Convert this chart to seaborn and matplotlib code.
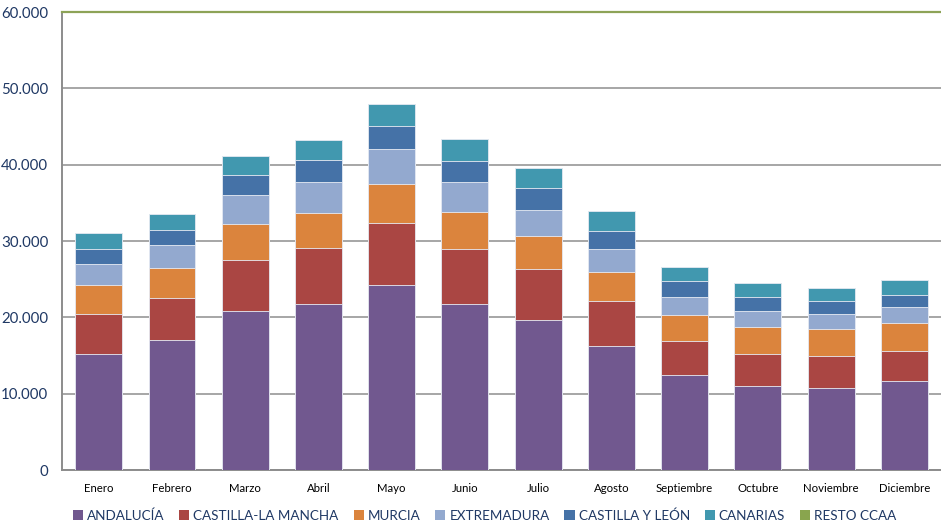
import matplotlib
matplotlib.use('Agg')
import matplotlib.pyplot as plt
from matplotlib.patches import Patch
from matplotlib.ticker import FuncFormatter
import numpy as np
import pandas as pd
import seaborn as sns

# monthly values per region
meses = ['Enero', 'Febrero', 'Marzo', 'Abril', 'Mayo', 'Junio', 'Julio',
         'Agosto', 'Septiembre', 'Octubre', 'Noviembre', 'Diciembre']
andalucia = [15200, 17000, 20800, 21800, 24300, 21800, 19700, 16200, 12400, 11000, 10800, 11600]
castilla_mancha = [5200, 5600, 6700, 7300, 8000, 7200, 6700, 5900, 4500, 4200, 4200, 4000]
murcia = [3800, 3900, 4700, 4600, 5200, 4800, 4300, 3900, 3400, 3600, 3500, 3700]
extremadura = [2800, 3000, 3800, 4100, 4600, 3900, 3400, 2900, 2400, 2000, 1900, 2000]
castilla_leon = [1900, 1900, 2600, 2800, 3000, 2800, 2800, 2400, 2000, 1900, 1800, 1600]
canarias = [2100, 2200, 2600, 2600, 2900, 2900, 2700, 2600, 1900, 1800, 1700, 2000]
resto_ccaa = [0, 0, 0, 0, 0, 0, 0, 0, 0, 0, 0, 0]

series = ['ANDALUCÍA', 'CASTILLA-LA MANCHA', 'MURCIA', 'EXTREMADURA',
          'CASTILLA Y LEÓN', 'CANARIAS', 'RESTO CCAA']
colores = ['#71588F', '#AA4643', '#DB843D', '#93A9CF', '#4572A7', '#4198AF', '#89A54E']

df = pd.DataFrame({
    'mes': meses,
    'ANDALUCÍA': andalucia,
    'CASTILLA-LA MANCHA': castilla_mancha,
    'MURCIA': murcia,
    'EXTREMADURA': extremadura,
    'CASTILLA Y LEÓN': castilla_leon,
    'CANARIAS': canarias,
    'RESTO CCAA': resto_ccaa,
})

sns.set_style('white')
plt.rcParams['font.family'] = ['Lato', 'DejaVu Sans']

fig = plt.figure(figsize=(9.41, 5.24), dpi=100)
ax = fig.add_axes([0.066, 0.103, 0.934, 0.874])

# stacked bars: draw cumulative totals from the top layer down
cum = df[series].cumsum(axis=1)
for name, color in reversed(list(zip(series, colores))):
    sns.barplot(x=df['mes'], y=cum[name], color=color, width=0.64,
                edgecolor='#E8ECF4', linewidth=0.6, saturation=1, ax=ax, zorder=3)

ax.set_ylim(0, 60000)
ax.set_yticks(np.arange(0, 60001, 10000))
ax.yaxis.set_major_formatter(FuncFormatter(lambda v, p: f'{int(v):,}'.replace(',', '.')))
ax.grid(axis='y', color='#A6A6A6', linewidth=1.4, zorder=0)
ax.set_axisbelow(True)
ax.set_xlabel('')
ax.set_ylabel('')
ax.set_xlim(-0.5, 11.5)

ax.spines['right'].set_visible(False)
ax.spines['top'].set_color('#8DA357')
ax.spines['top'].set_linewidth(1.6)
ax.spines['left'].set_color('#8C8C8C')
ax.spines['bottom'].set_color('#8C8C8C')
ax.spines['left'].set_linewidth(1.4)
ax.spines['bottom'].set_linewidth(1.4)

ax.tick_params(axis='y', labelsize=10.8, labelcolor='#1F3864', length=0, pad=10)
ax.tick_params(axis='x', labelsize=8.2, labelcolor='#000000', length=0, pad=9)

handles = [Patch(facecolor=c, edgecolor='none') for c in colores]
leg = fig.legend(handles, series, loc='center', bbox_to_anchor=(0.515, 0.016), ncol=7,
                 frameon=False, fontsize=9.7, handlelength=0.75, handleheight=0.75,
                 handletextpad=0.3, columnspacing=1.1)
for t in leg.get_texts():
    t.set_color('#1F3864')

fig.savefig('out.png', dpi=100)
